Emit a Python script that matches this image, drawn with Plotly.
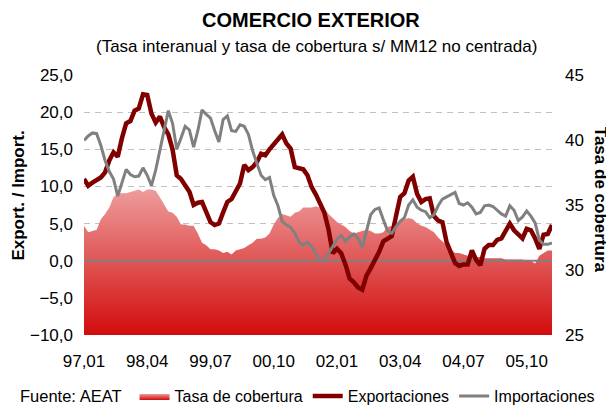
import plotly.graph_objects as go

months = list(range(112))  # 97,01 .. 06,04
tick_pos = [0, 15, 30, 45, 60, 75, 90, 105]
tick_labels = ["97,01", "98,04", "99,07", "00,10", "02,01", "03,04", "04,07", "05,10"]

exportaciones = [
    11.0, 10.1, 10.5, 10.9, 11.2, 11.9, 13.5, 14.6, 14.0, 16.5,
    18.5, 18.8, 20.2, 20.5, 22.4, 22.3, 19.8, 18.6, 19.4, 18.0,
    17.0, 15.0, 11.5, 11.0, 10.0, 9.3, 7.5, 7.8, 7.9, 6.5,
    5.2, 4.8, 5.0, 6.5, 7.9, 8.3, 9.5, 10.4, 12.9, 12.2,
    12.6, 13.3, 14.4, 14.2, 15.0, 15.6, 16.3, 17.0, 15.8, 15.1,
    12.6, 12.4, 12.3, 11.5, 9.9, 8.9, 7.8, 6.5, 4.2, 1.0,
    1.6, 1.0, -0.5, -2.4, -2.9, -3.6, -3.9, -2.0, -1.0, 0.0,
    1.2, 2.6, 3.0, 3.3, 6.0, 8.6, 9.1, 10.8, 11.3, 9.0,
    7.9, 8.3, 8.4, 6.0, 5.4, 5.2, 2.5, 1.2, -0.3, -0.7,
    -0.5, -0.5, 1.4, 0.1, -0.6, 1.6, 2.1, 2.1, 2.8, 3.0,
    3.9, 5.0, 4.1, 3.5, 3.0, 4.3, 4.1, 3.0, 1.6, 3.5,
    3.6, 4.8,
]

importaciones = [
    16.2, 16.8, 17.2, 17.1, 15.5, 13.5, 12.0, 11.0, 8.7, 10.5,
    12.3, 11.6, 11.3, 11.4, 12.5, 11.5, 10.1, 12.2, 15.0, 17.5,
    20.2, 18.5, 15.0, 16.5, 18.1, 17.6, 15.3, 17.5, 20.3, 19.7,
    19.2, 17.5, 16.0, 19.0, 19.5, 17.5, 17.4, 18.3, 18.1, 17.0,
    14.8, 13.1, 11.5, 10.9, 11.2, 8.8, 7.4, 5.3, 4.8, 4.5,
    3.7, 2.5, 2.1, 2.5, 1.9, 0.9, 0.0, 0.0, 1.0, 2.0,
    2.9, 3.4, 2.6, 3.2, 3.6, 3.0, 1.8, 4.0, 6.2, 6.9,
    7.1, 5.5, 4.0, 3.7, 4.6, 5.3, 5.8, 7.5, 8.2, 7.2,
    6.8, 6.6, 5.8, 6.2, 7.4, 8.3, 8.6, 8.9, 9.2, 7.7,
    7.5, 7.8, 7.2, 6.3, 6.5, 7.4, 7.5, 7.3, 6.8, 6.3,
    6.0, 7.4, 6.8, 5.4, 5.9, 6.7, 6.0, 5.1, 2.8, 2.2,
    2.2, 2.4,
]

tasa_cobertura = [
    33.4, 32.9, 33.0, 33.1, 33.9, 34.3, 34.8, 35.6, 35.9, 35.9,
    35.9, 36.0, 36.1, 36.2, 36.0, 36.2, 36.2, 36.1, 35.6, 35.0,
    34.5, 34.4, 34.1, 33.5, 33.5, 33.4, 33.4, 32.8, 32.1, 31.9,
    31.6, 31.6, 31.5, 31.3, 31.4, 31.2, 31.5, 31.6, 31.7, 31.9,
    32.1, 32.4, 32.4, 32.5, 32.8, 33.5, 34.0, 34.3, 34.2, 34.1,
    34.4, 34.5, 34.8, 34.8, 34.8, 34.9, 34.8, 34.7, 34.3, 34.0,
    33.7, 33.5, 33.3, 33.0, 32.8, 32.9, 33.0, 33.1, 33.0, 32.8,
    32.8, 32.9, 33.3, 33.4, 33.5, 33.7, 33.9, 34.0, 33.9, 33.6,
    33.4, 33.3, 33.1, 32.9, 32.5, 32.2, 31.9, 31.6, 31.3, 31.3,
    31.2, 31.1, 31.1, 31.0, 31.0, 30.9, 30.9, 30.9, 30.9, 30.9,
    30.8, 30.8, 30.8, 30.8, 30.8, 30.7, 30.7, 30.5, 31.1, 31.3,
    31.5, 31.5,
]

FONT = "Arial, 'Liberation Sans', sans-serif"

fig = go.Figure()
fig.add_trace(go.Scatter(
    x=months, y=tasa_cobertura, name="Tasa de cobertura", mode="lines",
    line=dict(width=0, color="#E05A5A"), fill="tozeroy",
    fillgradient=dict(type="vertical", colorscale=[[0, "#D20C0C"], [1, "#EE9C9C"]],
                      start=25, stop=max(tasa_cobertura)),
    yaxis="y", hoverinfo="skip",
))
fig.add_trace(go.Scatter(
    x=[months[0], months[-1]], y=[0, 0], mode="lines",
    line=dict(color="#808080", width=2), showlegend=False, hoverinfo="skip", yaxis="y2",
))
fig.add_trace(go.Scatter(
    x=months, y=exportaciones, name="Exportaciones", mode="lines",
    line=dict(color="#800000", width=4.5), yaxis="y2",
))
fig.add_trace(go.Scatter(
    x=months, y=importaciones, name="Importaciones", mode="lines",
    line=dict(color="#808080", width=3), yaxis="y2",
))

fig.update_layout(
    width=606, height=397,
    margin=dict(l=76, r=62, t=67, b=70, autoexpand=False),
    paper_bgcolor="white", plot_bgcolor="white",
    separators=",.",
    font=dict(family=FONT, size=17, color="#000000"),
    showlegend=True,
    legend=dict(orientation="h", x=0.108, xanchor="left", y=-0.2346, yanchor="middle",
                font=dict(size=16), bgcolor="rgba(0,0,0,0)", itemwidth=30),
    xaxis=dict(range=[months[0], months[-1]], tickmode="array", tickvals=tick_pos,
               ticktext=tick_labels, showgrid=False, zeroline=False, showline=False,
               ticks="", ticklabelstandoff=14, tickfont=dict(size=17)),
    yaxis=dict(side="right", range=[25, 45], dtick=5, tick0=25, showgrid=False,
               zeroline=False, showline=False, ticks="", ticklabelstandoff=12,
               tickfont=dict(size=17)),
    yaxis2=dict(overlaying="y", side="left", range=[-10, 25], dtick=5, tick0=-10,
                tickformat=".1f", showgrid=True, gridcolor="#C0C0C0", gridwidth=1,
                griddash="6px,5px", zeroline=False, showline=False, ticks="",
                ticklabelstandoff=10, tickfont=dict(size=17)),
    annotations=[
        dict(text="<b>COMERCIO EXTERIOR</b>", xref="paper", yref="paper", x=0.486, y=1.212,
             xanchor="center", yanchor="middle", showarrow=False, font=dict(size=20)),
        dict(text="(Tasa interanual y tasa de cobertura s/ MM12 no centrada)", xref="paper",
             yref="paper", x=0.496, y=1.108, xanchor="center", yanchor="middle",
             showarrow=False, font=dict(size=17)),
        dict(text="<b>Export. / Import.</b>", xref="paper", yref="paper", x=-0.14, y=0.538,
             xanchor="center", yanchor="middle", textangle=-90, showarrow=False,
             font=dict(size=17)),
        dict(text="<b>Tasa de cobertura</b>", xref="paper", yref="paper", x=1.1026, y=0.52,
             xanchor="center", yanchor="middle", textangle=90, showarrow=False,
             font=dict(size=17)),
        dict(text="Fuente: AEAT", xref="paper", yref="paper", x=-0.141, y=-0.2346,
             xanchor="left", yanchor="middle", showarrow=False, font=dict(size=16.5)),
    ],
)

fig.write_html("out.html")
